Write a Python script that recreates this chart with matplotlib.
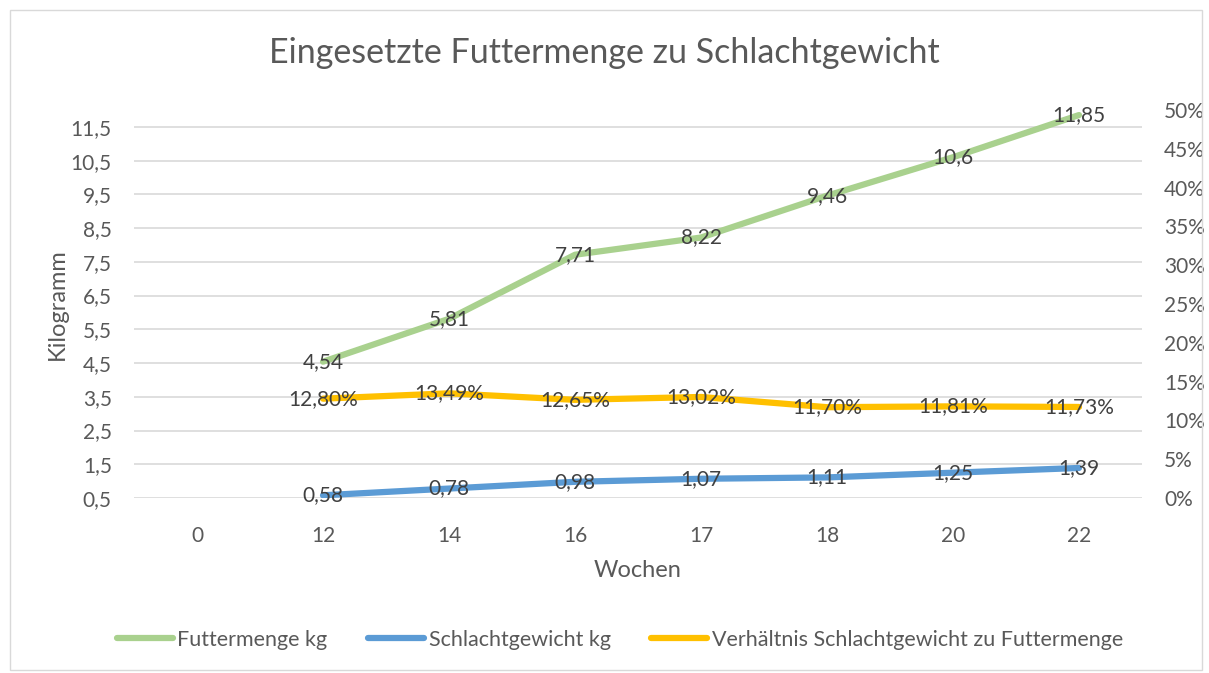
import numpy as np
import matplotlib.pyplot as plt
from matplotlib.patches import Rectangle

# Wochen (kategorial), Woche 0 ohne Werte
wochen = ['0', '12', '14', '16', '17', '18', '20', '22']
futtermenge = [np.nan, 4.54, 5.81, 7.71, 8.22, 9.46, 10.6, 11.85]
schlachtgewicht = [np.nan, 0.58, 0.78, 0.98, 1.07, 1.11, 1.25, 1.39]
verhaeltnis = [np.nan, 0.1280, 0.1349, 0.1265, 0.1302, 0.1170, 0.1181, 0.1173]

futter_labels = ['', '4,54', '5,81', '7,71', '8,22', '9,46', '10,6', '11,85']
schlacht_labels = ['', '0,58', '0,78', '0,98', '1,07', '1,11', '1,25', '1,39']
verh_labels = ['', '12,80%', '13,49%', '12,65%', '13,02%', '11,70%', '11,81%', '11,73%']

left_ticks = [0.5 + i for i in range(12)]
right_ticks = [i * 0.05 for i in range(11)]

plt.rcParams['font.family'] = ['Lato', 'DejaVu Sans']
txt = '#595959'
green = '#a9d18e'
blue = '#5b9bd5'
yellow = '#ffc000'

fig = plt.figure(figsize=(12.09, 6.73), dpi=100)
fig.patches.append(Rectangle((0.008, 0.005), 0.986, 0.98, transform=fig.transFigure,
                             fill=False, edgecolor='#d9d9d9', linewidth=1))

ax = fig.add_axes([134 / 1209, 1 - 498 / 673, (1142 - 134) / 1209, (498 - 110) / 673])
ax2 = ax.twinx()

x = np.arange(len(wochen))
ax.plot(x, futtermenge, color=green, linewidth=4.5, solid_capstyle='round', zorder=3)
ax.plot(x, schlachtgewicht, color=blue, linewidth=4.5, solid_capstyle='round', zorder=3)
ax2.plot(x, verhaeltnis, color=yellow, linewidth=4.5, solid_capstyle='round', zorder=3)

lab_kw = dict(ha='center', va='center', fontsize=15, color='#404040', zorder=5)
for xi, v, lab in zip(x, futtermenge, futter_labels):
    if lab:
        ax.text(xi, v, lab, **lab_kw)
for xi, v, lab in zip(x, schlachtgewicht, schlacht_labels):
    if lab:
        ax.text(xi, v, lab, **lab_kw)
for xi, v, lab in zip(x, verhaeltnis, verh_labels):
    if lab:
        ax2.text(xi, v, lab, **lab_kw)

ax.set_xlim(-0.5, len(wochen) - 0.5)
ax.set_ylim(0.5, 12.0)
ax2.set_ylim(0, 0.5)
ax.set_xticks(x)
ax.set_xticklabels(wochen)
ax.set_yticks(left_ticks)
ax.set_yticklabels([f'{t:.1f}'.replace('.', ',') for t in left_ticks])
ax2.set_yticks(right_ticks)
ax2.set_yticklabels([f'{round(t * 100)}%' for t in right_ticks])

ax.grid(axis='y', color='#d9d9d9', linewidth=1.2, zorder=0)
for a in (ax, ax2):
    for s in a.spines.values():
        s.set_visible(False)
    a.tick_params(length=0, labelsize=15, colors=txt)
ax.tick_params(axis='x', pad=20)
ax.tick_params(axis='y', pad=16)
ax2.tick_params(axis='y', pad=16)

ax.set_xlabel('Wochen', fontsize=17, color=txt, labelpad=10)
ax.set_ylabel('Kilogramm', fontsize=17, color=txt, labelpad=2)
fig.suptitle('Eingesetzte Futtermenge zu Schlachtgewicht', fontsize=24.5, color=txt, y=0.945)

handles = [plt.Line2D([], [], color=c, linewidth=4.5, solid_capstyle='round') for c in (green, blue, yellow)]
fig.legend(handles, ['Futtermenge kg', 'Schlachtgewicht kg', 'Verhältnis Schlachtgewicht zu Futtermenge'],
           loc='center', bbox_to_anchor=(620 / 1209, 1 - 640 / 673), ncol=3, frameon=False,
           fontsize=15.5, labelcolor=txt, handlelength=2.6, handletextpad=0.2, columnspacing=1.9)

fig.savefig('out.png', dpi=100)
